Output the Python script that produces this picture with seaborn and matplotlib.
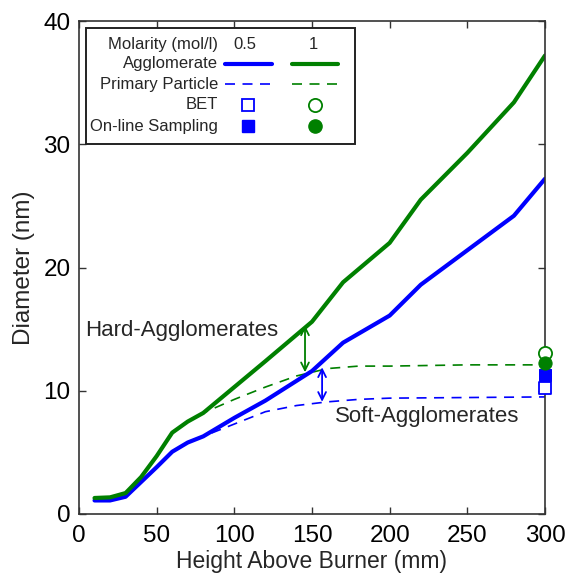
import matplotlib
matplotlib.use("Agg")
import matplotlib.pyplot as plt
import seaborn as sns
import pandas as pd
from matplotlib.lines import Line2D
from matplotlib.patches import Rectangle

# ---------------- data ----------------
hab = [10, 20, 30, 40, 50, 60, 70, 80, 100, 120, 150, 170, 200, 220, 250, 280, 300]
agg_1 = [1.3, 1.35, 1.7, 3.0, 4.7, 6.6, 7.5, 8.2, 10.3, 12.4, 15.6, 18.8, 22.0, 25.5, 29.3, 33.4, 37.2]
agg_05 = [1.1, 1.1, 1.4, 2.6, 3.8, 5.05, 5.8, 6.3, 7.8, 9.2, 11.6, 13.9, 16.1, 18.6, 21.4, 24.2, 27.2]

hab_pp = [10, 20, 30, 40, 50, 60, 70, 80, 100, 120, 140, 160, 180, 200, 250, 300]
pp_1 = [1.3, 1.35, 1.7, 3.0, 4.7, 6.6, 7.5, 8.2, 9.3, 10.3, 11.2, 11.8, 12.0, 12.0, 12.1, 12.1]
pp_05 = [1.1, 1.1, 1.4, 2.6, 3.8, 5.05, 5.8, 6.3, 7.3, 8.3, 8.8, 9.1, 9.3, 9.4, 9.45, 9.5]

bet_x = [300]
bet_05 = [10.2]
bet_1 = [13.05]
online_x = [300]
online_05 = [11.3]
online_1 = [12.25]

xticks = [0, 50, 100, 150, 200, 250, 300]
yticks = [0, 10, 20, 30, 40]

BLUE = "#0000ff"
GREEN = "#008000"

sns.set_style("white")
plt.rcParams["font.family"] = ["Liberation Sans", "DejaVu Sans"]

fig = plt.figure(figsize=(5.67, 5.76), dpi=100)
ax = fig.add_axes([79 / 567, 62 / 576, 466 / 567, 493 / 576])

df_agg = pd.DataFrame({"x": hab, "a1": agg_1, "a05": agg_05})
df_pp = pd.DataFrame({"x": hab_pp, "p1": pp_1, "p05": pp_05})

sns.lineplot(data=df_pp, x="x", y="p05", ax=ax, color=BLUE, lw=1.2,
             linestyle=(0, (6, 4.5)), sort=False)
sns.lineplot(data=df_pp, x="x", y="p1", ax=ax, color=GREEN, lw=1.2,
             linestyle=(0, (6, 4.5)), sort=False)
sns.lineplot(data=df_agg, x="x", y="a05", ax=ax, color=BLUE, lw=3.0, sort=False)
sns.lineplot(data=df_agg, x="x", y="a1", ax=ax, color=GREEN, lw=3.0, sort=False)

sns.scatterplot(x=bet_x, y=bet_05, ax=ax, marker="s", s=80, facecolor="white",
                edgecolor=BLUE, linewidth=1.3, zorder=5, clip_on=False)
sns.scatterplot(x=bet_x, y=bet_1, ax=ax, marker="o", s=90, facecolor="white",
                edgecolor=GREEN, linewidth=1.3, zorder=5, clip_on=False)
sns.scatterplot(x=online_x, y=online_05, ax=ax, marker="s", s=80, color=BLUE,
                edgecolor=BLUE, zorder=6, clip_on=False)
sns.scatterplot(x=online_x, y=online_1, ax=ax, marker="o", s=90, color=GREEN,
                edgecolor=GREEN, zorder=7, clip_on=False)

ax.set_xlim(0, 300)
ax.set_ylim(0, 40)
ax.set_xticks(xticks)
ax.set_yticks(yticks)
ax.tick_params(direction="in", length=5, width=1, colors="#333333",
               labelcolor="black", labelsize=17.5, top=True, right=True,
               bottom=True, left=True, pad=6)
ax.tick_params(axis="x", pad=8)
for sp in ax.spines.values():
    sp.set_visible(True)
    sp.set_color("#333333")
    sp.set_linewidth(1.2)
ax.set_xlabel("Height Above Burner (mm)", fontsize=16.5, labelpad=2)
ax.set_ylabel("Diameter (nm)", fontsize=17.5, labelpad=6)

# arrows and annotations
ax.annotate("", xy=(145.5, 15.3), xytext=(145.5, 11.5),
            arrowprops=dict(arrowstyle="<->", color=GREEN, lw=1.3,
                            shrinkA=0, shrinkB=0, mutation_scale=14))
ax.annotate("", xy=(156.5, 11.9), xytext=(156.5, 9.1),
            arrowprops=dict(arrowstyle="<->", color=BLUE, lw=1.3,
                            shrinkA=0, shrinkB=0, mutation_scale=14))
ax.text(3.9, 14.9, "Hard-Agglomerates", fontsize=16, va="center", ha="left")
ax.text(164.8, 7.9, "Soft-Agglomerates", fontsize=16, va="center", ha="left")

# custom legend table
T = ax.transAxes
ax.add_patch(Rectangle((0.015, 0.750), 0.577, 0.236, transform=T,
                       facecolor="white", edgecolor="#222222", lw=1.4, zorder=8))
rows_y = [0.953, 0.913, 0.872, 0.830, 0.787]
labels = ["Molarity (mol/l)", "Agglomerate", "Primary Particle", "BET", "On-line Sampling"]
for yy, lab in zip(rows_y, labels):
    ax.text(0.298, yy, lab, transform=T, ha="right", va="center", fontsize=12, zorder=9)
ax.text(0.356, rows_y[0], "0.5", transform=T, ha="center", va="center", fontsize=12, zorder=9)
ax.text(0.502, rows_y[0], "1", transform=T, ha="center", va="center", fontsize=12, zorder=9)
for x0, x1, c in [(0.313, 0.414, BLUE), (0.457, 0.556, GREEN)]:
    ax.add_line(Line2D([x0, x1], [rows_y[1]] * 2, transform=T, color=c, lw=3.0, zorder=9))
    ax.add_line(Line2D([x0, x1], [rows_y[2]] * 2, transform=T, color=c, lw=1.2,
                       linestyle=(0, (6, 4.5)), zorder=9))
ax.add_line(Line2D([0.363], [rows_y[3]], transform=T, marker="s", ms=9, mfc="white",
                   mec=BLUE, mew=1.3, ls="none", zorder=9))
ax.add_line(Line2D([0.506], [rows_y[3]], transform=T, marker="o", ms=9.5, mfc="white",
                   mec=GREEN, mew=1.3, ls="none", zorder=9))
ax.add_line(Line2D([0.363], [rows_y[4]], transform=T, marker="s", ms=9, mfc=BLUE,
                   mec=BLUE, ls="none", zorder=9))
ax.add_line(Line2D([0.506], [rows_y[4]], transform=T, marker="o", ms=9.5, mfc=GREEN,
                   mec=GREEN, ls="none", zorder=9))

fig.savefig("out.png", dpi=100)
